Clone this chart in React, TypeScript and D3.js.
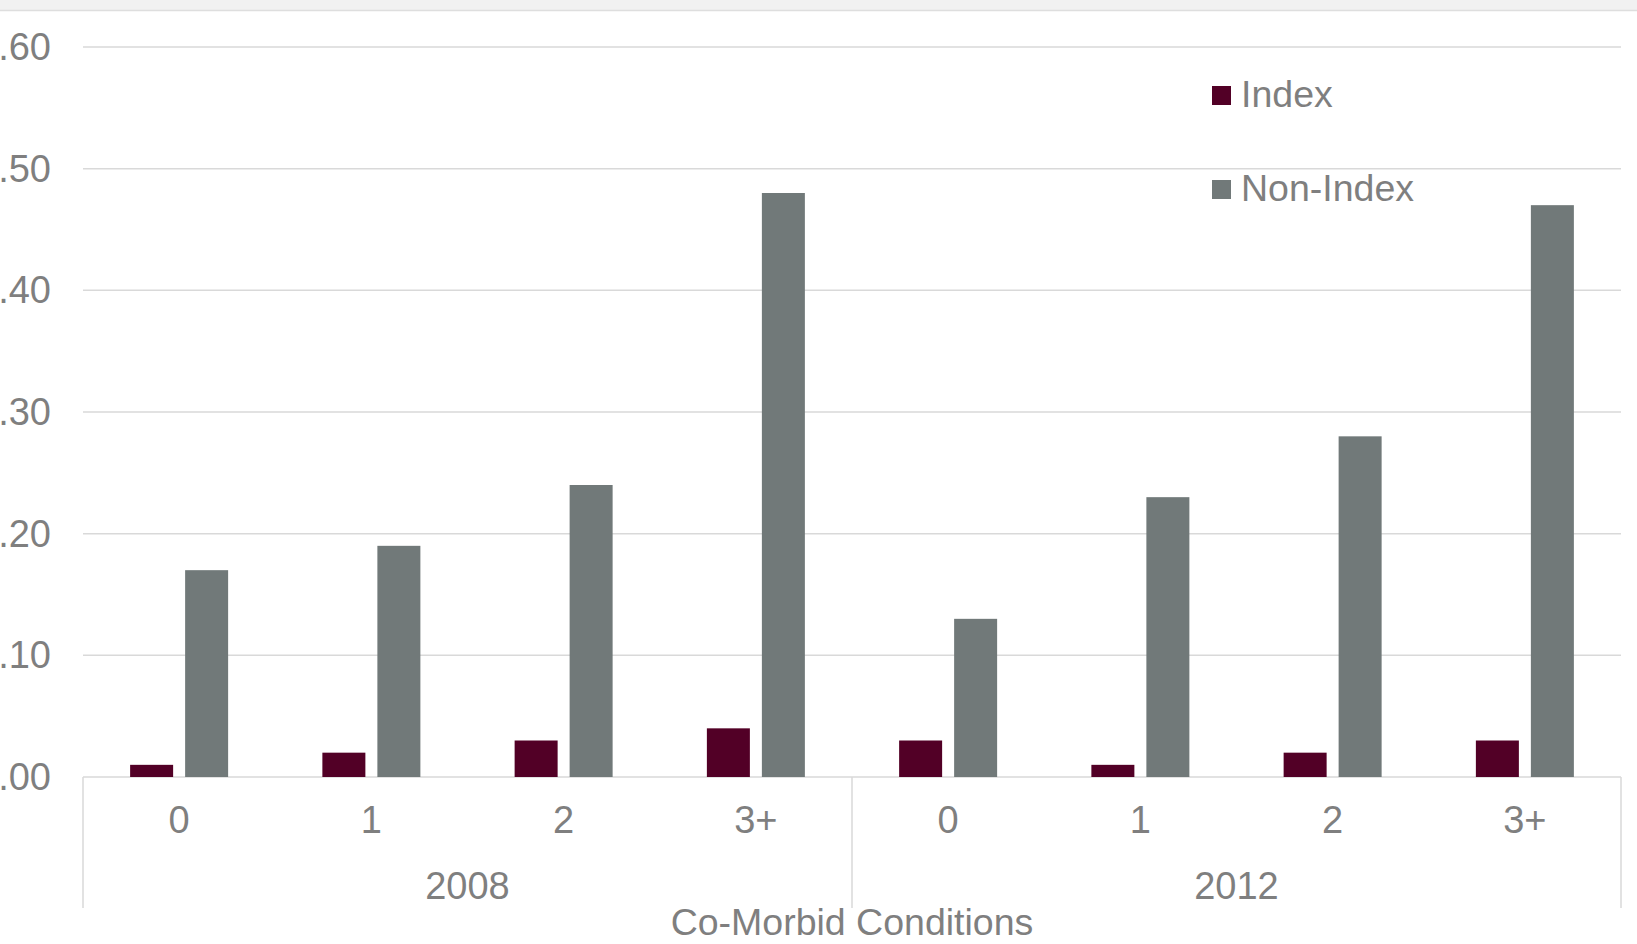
import * as d3 from "d3";

const years = ["2008", "2012"];
const conditions = ["0", "1", "2", "3+"];
const seriesNames = ["Index", "Non-Index"];
const indexValues = [0.01, 0.02, 0.03, 0.04, 0.03, 0.01, 0.02, 0.03];
const nonIndexValues = [0.17, 0.19, 0.24, 0.48, 0.13, 0.23, 0.28, 0.47];
const yTicks = [0, 0.1, 0.2, 0.3, 0.4, 0.5, 0.6];

const colors: Record<string, string> = { Index: "#520026", "Non-Index": "#717979" };
const textColor = "#7f7f7f";
const gridColor = "#d9d9d9";
const font = "'Liberation Sans', Arial, sans-serif";

const App = () => {
  const width = 1637;
  const height = 944;
  const left = 83;
  const right = 1621;
  const base = 777;

  const keys = years.flatMap((y) => conditions.map((c) => `${y}|${c}`));
  const x0 = d3.scaleBand<string>().domain(keys).range([left, right]);
  const x1 = d3
    .scaleBand<string>()
    .domain(seriesNames)
    .range([x0.bandwidth() / 2 - 49, x0.bandwidth() / 2 + 49])
    .paddingInner(12 / 55);
  const y = d3.scaleLinear().domain([0, 0.6]).range([base, 47]);
  const yearX = d3.scaleBand<string>().domain(years).range([left, right]);
  const fmt = d3.format(".2f");

  const rows = keys.map((k, i) => ({ key: k, values: [indexValues[i], nonIndexValues[i]] }));

  return (
    <svg
      width={width}
      height={height}
      style={{ position: "absolute", left: 0, top: 0, background: "#fff" }}
      fontFamily={font}
    >
      <rect x={0} y={0} width={width} height={10} fill="#f1f1f1" />
      <line x1={0} x2={width} y1={10.5} y2={10.5} stroke="#dedede" strokeWidth={1.5} />

      {yTicks.map((t) => (
        <g key={t}>
          <line x1={left} x2={right} y1={y(t)} y2={y(t)} stroke={gridColor} strokeWidth={1.5} />
          <text
            x={51}
            y={y(t) + 13}
            textAnchor="end"
            fontSize={38}
            fill={textColor}
          >
            {fmt(t)}
          </text>
        </g>
      ))}

      {rows.map((r) => (
        <g key={r.key} transform={`translate(${x0(r.key)},0)`}>
          {r.values.map((v, j) => (
            <rect
              key={j}
              x={x1(seriesNames[j])}
              y={y(v)}
              width={x1.bandwidth()}
              height={base - y(v)}
              fill={colors[seriesNames[j]]}
            />
          ))}
          <text
            x={x0.bandwidth() / 2}
            y={833}
            textAnchor="middle"
            fontSize={38}
            fill={textColor}
          >
            {r.key.split("|")[1]}
          </text>
        </g>
      ))}

      {[left, yearX("2012")!, right].map((xv, i) => (
        <line key={i} x1={xv} x2={xv} y1={base} y2={908} stroke={gridColor} strokeWidth={1.5} />
      ))}

      {years.map((yr) => (
        <text
          key={yr}
          x={yearX(yr)! + yearX.bandwidth() / 2}
          y={899}
          textAnchor="middle"
          fontSize={38}
          fill={textColor}
        >
          {yr}
        </text>
      ))}

      <text x={(left + right) / 2} y={935} textAnchor="middle" fontSize={37.5} fill={textColor}>
        Co-Morbid Conditions
      </text>

      {seriesNames.map((s, i) => (
        <g key={s} transform={`translate(1212,${86 + i * 94})`}>
          <rect x={0} y={0} width={19} height={19} fill={colors[s]} />
          <text x={29} y={21} fontSize={37.5} fill={textColor}>
            {s}
          </text>
        </g>
      ))}
    </svg>
  );
};

export default App;
